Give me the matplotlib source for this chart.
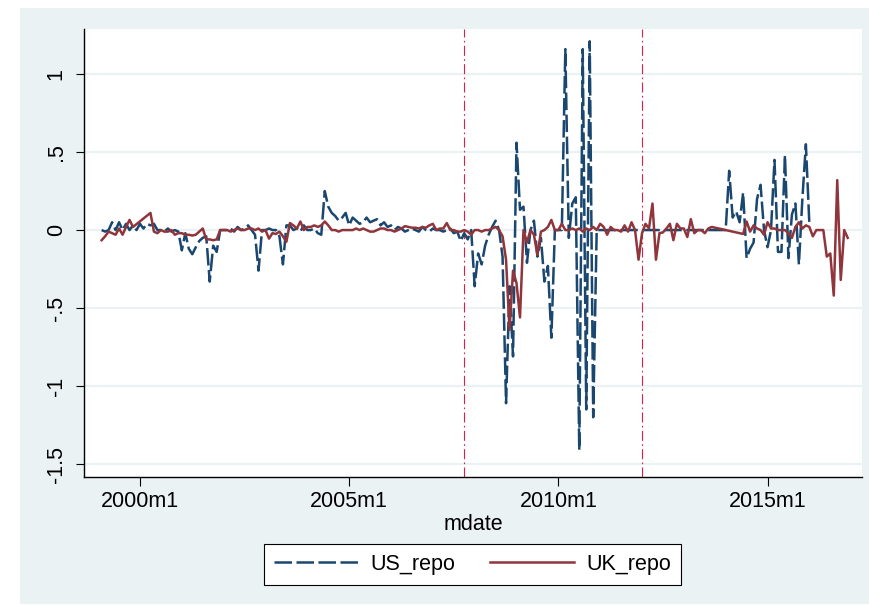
import numpy as np
import matplotlib
matplotlib.use("Agg")
import matplotlib.pyplot as plt
from matplotlib.patches import Rectangle

plt.rcParams["font.family"] = ["Liberation Sans", "DejaVu Sans"]

nan = np.nan

# monthly data, 1999m1 .. 2016m12 (one row per year)
first_year = 1999
us_repo = [
    nan, 0.00, -0.01, 0.00, 0.05, 0.00, 0.05, 0.00, 0.04, 0.00, 0.03, 0.00,          # 1999
    0.04, 0.01, 0.04, 0.03, 0.04, 0.00, 0.00, -0.01, 0.01, -0.01, 0.00, -0.01,      # 2000
    -0.13, -0.02, -0.12, -0.155, -0.11, -0.07, -0.05, -0.04, -0.33, -0.10, -0.14, 0.00,  # 2001
    0.00, 0.00, 0.01, -0.01, 0.02, 0.00, 0.01, 0.03, 0.00, -0.03, -0.26, 0.00,      # 2002
    0.00, 0.01, 0.00, 0.00, -0.04, -0.22, 0.03, 0.03, 0.00, 0.01, -0.01, 0.03,      # 2003
    0.00, 0.00, 0.01, -0.02, -0.03, 0.25, 0.15, 0.11, 0.09, 0.06, 0.08, 0.11,       # 2004
    0.03, 0.08, 0.06, 0.04, 0.05, 0.08, 0.05, 0.06, 0.07, 0.03, 0.05, 0.02,         # 2005
    0.03, 0.00, 0.02, 0.01, -0.01, 0.00, 0.01, 0.00, -0.01, 0.02, 0.00, -0.01,      # 2006
    0.01, 0.00, 0.00, -0.01, 0.00, 0.01, -0.02, -0.01, -0.07, -0.02, -0.06, 0.00,   # 2007
    -0.36, -0.15, -0.22, -0.10, -0.03, 0.02, 0.06, 0.00, -0.17, -1.11, -0.36, -0.81,  # 2008
    0.56, 0.13, 0.15, -0.21, 0.00, 0.06, -0.17, -0.05, -0.33, -0.23, -0.69, 0.00,   # 2009
    0.00, 0.00, 1.16, -0.05, 0.17, 0.21, -1.41, 1.16, -1.15, 1.21, -1.20, 0.00,     # 2010
    0.00, 0.00, 0.00, 0.00, 0.00, 0.00, 0.00, 0.00, 0.00, 0.00, 0.00, 0.00,         # 2011
    0.00, 0.00, 0.00, 0.00, 0.00, 0.00, 0.00, 0.00, 0.00, 0.00, 0.00, 0.00,         # 2012
    0.00, 0.00, 0.00, 0.00, 0.00, 0.00, 0.00, 0.00, 0.00, 0.00, 0.00, 0.00,         # 2013
    0.00, 0.38, 0.08, 0.12, 0.05, 0.24, -0.18, -0.12, -0.08, 0.20, 0.29, 0.00,      # 2014
    -0.11, 0.00, 0.45, -0.14, -0.14, 0.48, -0.18, 0.10, 0.17, -0.22, 0.20, 0.55,    # 2015
    0.04, nan, nan, nan, nan, nan, nan, nan, nan, nan, nan, nan,                    # 2016
]
uk_repo = [
    nan, -0.065, -0.04, -0.01, -0.02, -0.03, 0.01, -0.03, 0.02, 0.065, 0.02, nan,   # 1999
    nan, nan, nan, 0.11, -0.01, -0.02, 0.00, -0.01, -0.01, 0.00, -0.03, -0.02,      # 2000
    -0.02, -0.03, -0.03, -0.035, -0.03, -0.01, 0.01, -0.06, -0.06, -0.065, -0.06, 0.00,  # 2001
    0.00, 0.00, -0.01, 0.00, 0.01, 0.00, 0.00, 0.01, 0.01, 0.00, 0.01, -0.01,       # 2002
    0.00, -0.055, -0.02, -0.025, -0.01, -0.04, -0.075, 0.045, 0.03, 0.01, 0.055, 0.00,  # 2003
    0.02, 0.02, 0.03, 0.02, 0.03, 0.055, 0.03, 0.00, 0.00, -0.01, 0.00, 0.00,       # 2004
    0.00, 0.00, 0.01, 0.00, 0.01, 0.00, -0.01, -0.01, 0.00, 0.01, 0.01, 0.00,       # 2005
    0.00, -0.01, 0.00, 0.01, 0.025, 0.02, 0.015, 0.015, 0.01, 0.02, 0.015, 0.03,    # 2006
    0.04, 0.00, 0.01, 0.01, 0.045, 0.00, 0.00, -0.01, -0.01, 0.00, -0.01, -0.03,    # 2007
    0.00, 0.00, -0.01, 0.00, 0.00, 0.01, 0.02, 0.00, -0.04, -0.19, -0.64, -0.26,    # 2008
    -0.34, -0.56, 0.00, -0.08, 0.00, -0.03, -0.16, -0.01, 0.00, 0.02, 0.065, 0.00,  # 2009
    0.00, 0.04, 0.00, 0.00, 0.01, 0.00, 0.01, -0.01, 0.01, 0.00, 0.02, 0.00,        # 2010
    0.04, 0.02, -0.03, 0.02, 0.00, 0.00, -0.01, 0.03, -0.01, 0.05, 0.00, -0.19,     # 2011
    -0.02, 0.04, 0.01, 0.17, -0.19, -0.02, -0.015, 0.01, 0.04, -0.065, 0.04, 0.01,  # 2012
    0.01, -0.045, 0.07, -0.02, 0.00, 0.00, -0.02, 0.01, 0.02, nan, nan, nan,        # 2013
    nan, nan, nan, nan, nan, -0.025, 0.055, -0.01, 0.03, 0.01, 0.00, -0.03,         # 2014
    0.05, 0.01, 0.01, 0.00, 0.00, 0.00, -0.02, -0.05, 0.02, 0.05, 0.01, 0.03,       # 2015
    0.02, -0.04, 0.00, 0.00, 0.00, -0.17, -0.15, -0.42, 0.32, -0.32, 0.00, -0.05,   # 2016
]

# event lines (year, month)
event_dates = [(2007, 10), (2012, 1)]

tick_years = [2000, 2005, 2010, 2015]
y_ticks = [-1.5, -1, -0.5, 0, 0.5, 1]
y_ticklabels = ["-1.5", "-1", "-.5", "0", ".5", "1"]

NAVY = "#1A476F"
MAROON = "#90353B"
BG = "#EAF2F3"


def mdate(year, month):
    # Stata style monthly date: months since 2000m1
    return (year - 2000) * 12 + (month - 1)


def series_xy(values):
    vals = np.array(values, dtype=float)
    x = mdate(first_year, 1) + np.arange(len(vals))
    ok = ~np.isnan(vals)
    return x[ok], vals[ok]


fig = plt.figure(figsize=(8.7, 6.06), dpi=100)
fig.patches.append(Rectangle((20 / 870, 2 / 606), 850 / 870, 596 / 606,
                             transform=fig.transFigure, facecolor=BG,
                             edgecolor="none", zorder=-5))

ax = fig.add_axes([84 / 870, (606 - 476.7) / 606, 778 / 870, 448.2 / 606])
ax.set_facecolor("white")
ax.set_zorder(1)

for yr, mo in event_dates:
    ax.axvline(mdate(yr, mo), color="#E31A4A", lw=0.8,
               linestyle=(0, (9, 3, 1.5, 3)), zorder=1)

x, y = series_xy(us_repo)
ax.plot(x, y, color=NAVY, lw=1.8, linestyle=(0, (7, 1.8)), label="US_repo", zorder=3)
x, y = series_xy(uk_repo)
ax.plot(x, y, color=MAROON, lw=1.8, label="UK_repo", zorder=4)

ax.set_xlim(-16.06, 207.1)
ax.set_ylim(-1.581, 1.292)

ax.set_yticks(y_ticks)
ax.set_yticklabels(y_ticklabels, rotation=90, va="center")
ax.set_xticks([mdate(yr, 1) for yr in tick_years])
ax.set_xticklabels([f"{yr}m1" for yr in tick_years])
ax.tick_params(axis="y", length=6, width=0.8, pad=6.5, labelsize=15.5)
ax.tick_params(axis="x", length=6.5, width=0.8, pad=4, labelsize=15.5)
ax.yaxis.grid(True, color=BG, lw=1.6, zorder=0)
ax.set_axisbelow(True)

for side in ["top", "right"]:
    ax.spines[side].set_visible(False)
for side in ["left", "bottom"]:
    ax.spines[side].set_linewidth(1.0)

ax.set_xlabel("mdate", fontsize=15.5, labelpad=1)

leg = fig.legend(loc="center", bbox_to_anchor=(472.5 / 870, 1 - 564.5 / 606),
                 ncol=2, fontsize=15.5, frameon=True, fancybox=False,
                 framealpha=1, facecolor="white",
                 handlelength=3.9, handletextpad=0.6, columnspacing=1.6,
                 borderpad=0.45, borderaxespad=0)
leg.get_frame().set_edgecolor("black")
leg.get_frame().set_linewidth(0.8)
leg.set_zorder(2)

fig.savefig("out.png", dpi=100, facecolor="white")
